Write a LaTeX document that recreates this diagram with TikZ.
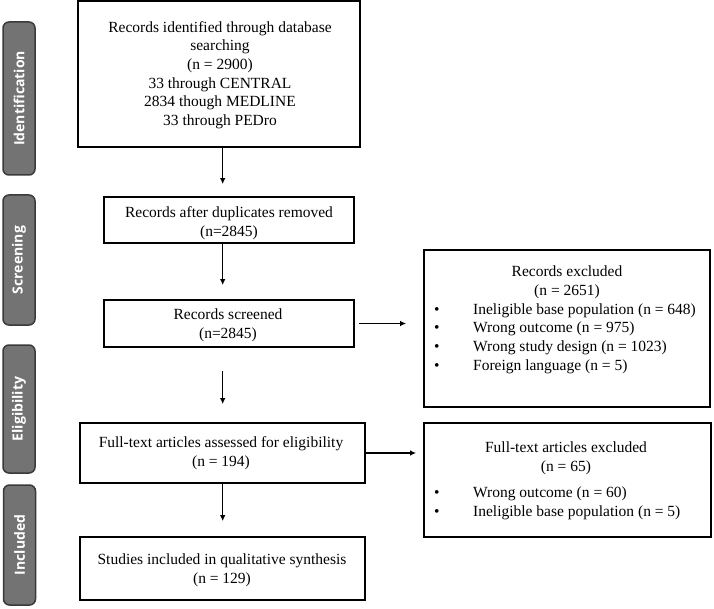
\documentclass[tikz,border=0pt]{standalone}
\usepackage{fontspec}
\setmainfont{Liberation Serif}
\newfontfamily\labfont{Open Sans}
\usetikzlibrary{arrows.meta}
\definecolor{labfill}{HTML}{737373}
\definecolor{labdraw}{HTML}{3A3A3A}
\tikzset{
  box/.style={draw=black, line width=1.7pt, rectangle, inner sep=0pt},
  txt/.style={font=\fontsize{15.5}{18.7}\selectfont, inner sep=0pt, align=center},
  lst/.style={font=\fontsize{15.5}{18.7}\selectfont, inner sep=0pt, align=left, anchor=west},
  arr/.style={line width=1.5pt, -{Latex[length=6pt,width=5.5pt]}},
  side/.style={rectangle, rounded corners=6pt, fill=labfill, draw=labdraw, line width=1.5pt,
    minimum width=32pt, inner sep=0pt},
  sidetxt/.style={text=white, font=\labfont\bfseries\fontsize{14}{16}\selectfont, rotate=90, inner sep=0pt}
}
\newcommand{\bul}[1]{\makebox[39pt][l]{\textbullet}#1}
\begin{document}
\begin{tikzpicture}[x=1pt,y=-1pt]
\useasboundingbox (0,0) rectangle (714,609);
\fill[white] (0,0) rectangle (714,609);

% side labels
\node[side, minimum height=153pt] (lid) at (19,98.5) {};
\node[sidetxt] at (lid.center) {Identification};
\node[side, minimum height=130pt] (lsc) at (19,260) {};
\node[sidetxt] at (lsc.center) {Screening};
\node[side, minimum height=128pt] (lel) at (19,409) {};
\node[sidetxt] at (lel.center) {Eligibility};
\node[side, minimum height=120pt] (lin) at (19.5,545) {};
\node[sidetxt] at (lin.center) {Included};

% main boxes
\node[box, minimum width=282pt, minimum height=146pt] (id) at (219,74) {};
\node[txt] at (220,75) {Records identified through database\\searching\\(n = 2900)\\33 through CENTRAL\\2834 though MEDLINE\\33 through PEDro};

\node[box, minimum width=250pt, minimum height=46pt] (dup) at (229,220) {};
\node[txt] at (229,223) {Records after duplicates removed\\(n=2845)};

\node[box, minimum width=250pt, minimum height=47pt] (scr) at (229,323.5) {};
\node[txt] at (228,325.5) {Records screened\\(n=2845)};

\node[box, minimum width=285pt, minimum height=60pt] (ft) at (222.5,453) {};
\node[txt] at (221,453.5) {Full-text articles assessed for eligibility\\(n = 194)};

\node[box, minimum width=285pt, minimum height=63pt] (inc) at (222.5,568.5) {};
\node[txt] at (222,570) {Studies included in qualitative synthesis\\(n = 129)};

% right boxes
\node[box, minimum width=286pt, minimum height=157pt] (rx1) at (567,328.5) {};
\node[txt] at (567,282.5) {Records excluded\\(n = 2651)};
\node[lst] at (434,338.5) {\bul{Ineligible base population (n = 648)}\\\bul{Wrong outcome (n = 975)}\\\bul{Wrong study design (n = 1023)}\\\bul{Foreign language (n = 5)}};

\node[box, minimum width=287pt, minimum height=114pt] (rx2) at (567.5,480) {};
\node[txt] at (566,458) {Full-text articles excluded\\(n = 65)};
\node[lst] at (434,503.5) {\bul{Wrong outcome (n = 60)}\\\bul{Ineligible base population (n = 5)}};

% arrows
\coordinate (ax) at (222.7,0);
\draw[arr, shorten >=12pt] (id.south -| ax) -- (dup.north -| ax);
\draw[arr, shorten >=14pt] (dup.south -| ax) -- (scr.north -| ax);
\draw[arr, shorten <=23pt, shorten >=18pt] (scr.south -| ax) -- (ft.north -| ax);
\draw[arr, shorten >=15pt] (ft.south -| ax) -- (inc.north -| ax);
\draw[arr, shorten <=4pt, shorten >=17pt] (scr.east) -- (rx1.west |- scr.east);
\draw[arr, shorten >=7pt] (ft.east) -- (rx2.west |- ft.east);
\end{tikzpicture}
\end{document}
